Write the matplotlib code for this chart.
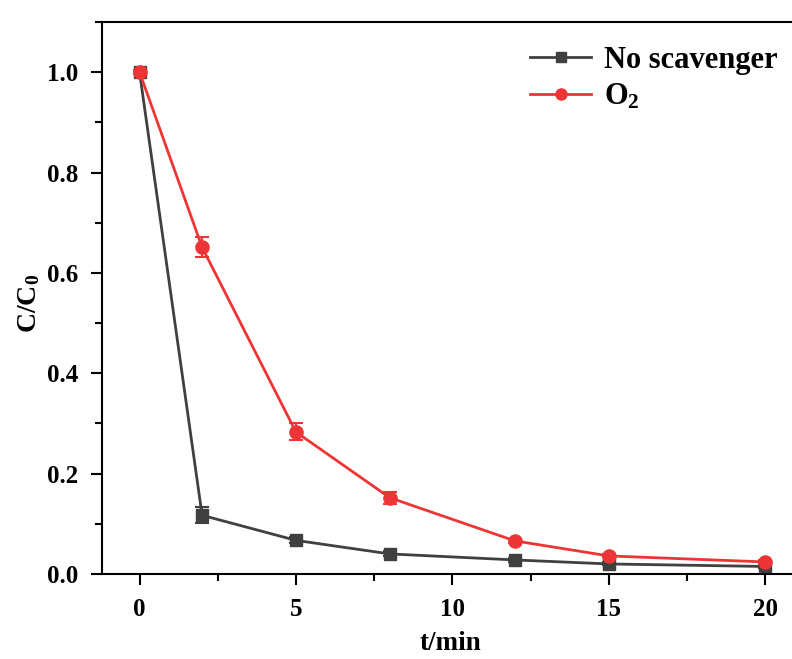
import matplotlib
matplotlib.use("Agg")
import matplotlib.pyplot as plt
from matplotlib.ticker import MultipleLocator
from matplotlib.lines import Line2D

plt.rcParams['font.family'] = ['Liberation Serif', 'DejaVu Serif']
plt.rcParams['font.weight'] = 'bold'
plt.rcParams['mathtext.fontset'] = 'custom'
plt.rcParams['mathtext.rm'] = 'Liberation Serif:bold'
plt.rcParams['mathtext.bf'] = 'Liberation Serif:bold'
plt.rcParams['mathtext.it'] = 'Liberation Serif:bold'

t = [0, 2, 5, 8, 12, 15, 20]
no_scav = [1.0, 0.117, 0.067, 0.040, 0.028, 0.020, 0.015]
no_scav_err = [0.004, 0.016, 0.006, 0.005, 0.004, 0.003, 0.003]
o2 = [1.0, 0.651, 0.283, 0.152, 0.066, 0.036, 0.024]
o2_err = [0.004, 0.020, 0.017, 0.012, 0.004, 0.003, 0.003]
labels = ['No scavenger', r'O$_2$']

fig = plt.figure(figsize=(7.92, 6.59), dpi=100)
ax = fig.add_axes([0.1288, 0.129, 0.8846, 0.8377])

c_gray = '#404040'
c_red = '#ee3535'
ax.errorbar(t, no_scav, yerr=no_scav_err, color=c_gray, marker='s', markersize=8.5,
            linewidth=2, capsize=5, elinewidth=1.5, capthick=1.5, zorder=3)
ax.errorbar(t, o2, yerr=o2_err, color=c_red, marker='o', markersize=9.5,
            linewidth=2, capsize=5, elinewidth=1.5, capthick=1.5, zorder=4)

ax.set_xlim(-1.2, 21.2)
ax.set_ylim(0, 1.1)
ax.xaxis.set_major_locator(MultipleLocator(5))
ax.xaxis.set_minor_locator(MultipleLocator(2.5))
ax.yaxis.set_major_locator(MultipleLocator(0.2))
ax.yaxis.set_minor_locator(MultipleLocator(0.1))
ax.tick_params(which='both', direction='out', width=1.5, top=False, right=False)
ax.tick_params(which='major', length=8, labelsize=18)
ax.tick_params(axis='y', which='major', pad=9)
ax.tick_params(axis='x', which='major', pad=9)
ax.tick_params(which='minor', length=5)
ax.set_yticks([0, 0.2, 0.4, 0.6, 0.8, 1.0])
ax.set_yticklabels(['0.0', '0.2', '0.4', '0.6', '0.8', '1.0'])
for lab in ax.get_xticklabels() + ax.get_yticklabels():
    lab.set_fontweight('bold')
for s in ax.spines.values():
    s.set_linewidth(1.5)

ax.set_xlabel('t/min', fontsize=19.5, fontweight='bold')
ax.xaxis.set_label_coords(0.497, -0.103)
ax.set_ylabel(r'C/C$_0$', fontsize=20, fontweight='bold')
ax.yaxis.set_label_coords(-0.085, 0.49)

handles = [Line2D([], [], color=c_gray, marker='s', markersize=7, linewidth=2),
           Line2D([], [], color=c_red, marker='o', markersize=8, linewidth=2)]
leg = ax.legend(handles, labels, loc='upper right', bbox_to_anchor=(0.99, 0.99), frameon=False,
                fontsize=22, handlelength=2.0, handletextpad=0.4, labelspacing=0.25,
                borderaxespad=0.2)
for txt in leg.get_texts():
    txt.set_fontweight('bold')

fig.savefig('out.png', dpi=100)
